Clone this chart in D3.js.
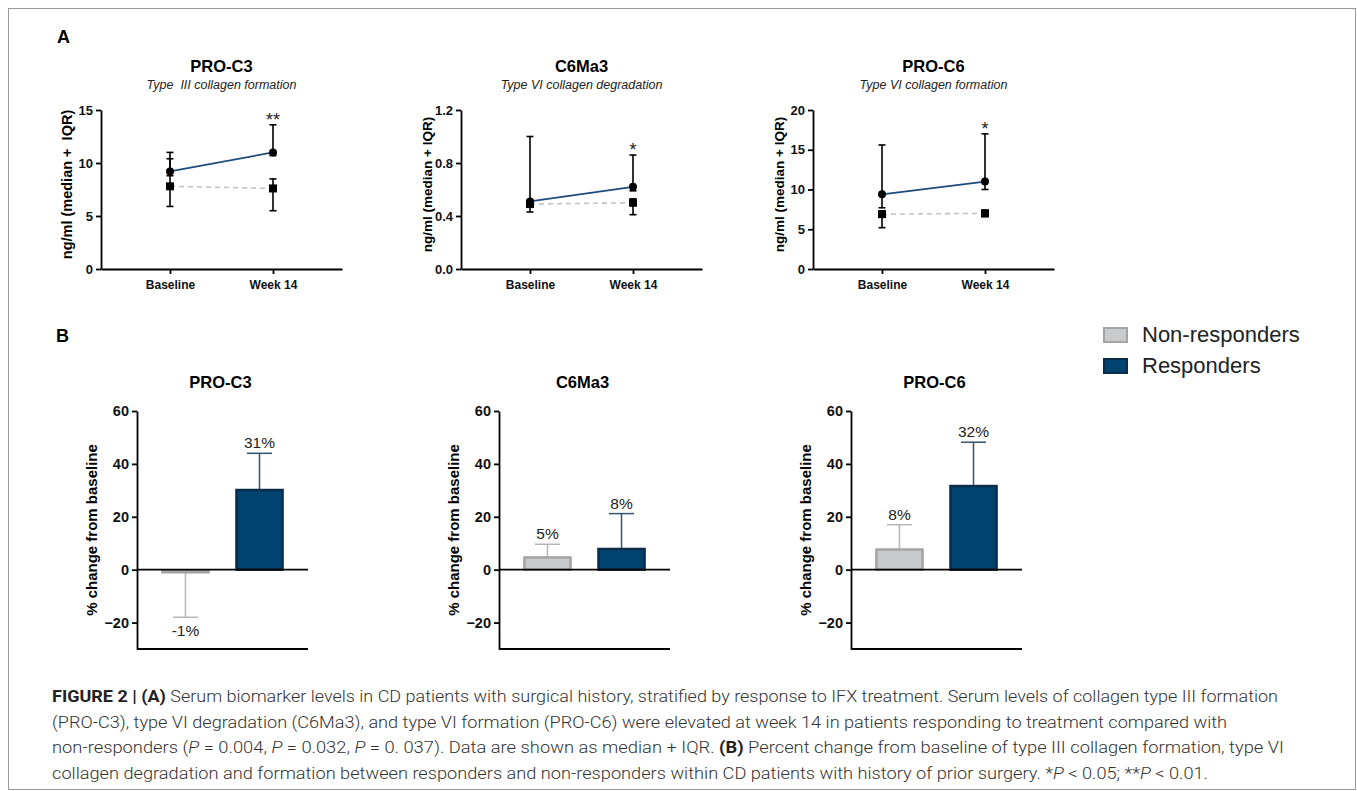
<!DOCTYPE html>
<html>
<head>
<meta charset="utf-8">
<script src="https://cdn.jsdelivr.net/npm/d3@7"></script>
<style>
  body { margin: 0; background: #fff; }
  svg { display: block; font-family: "Liberation Sans", Arial, sans-serif; }
</style>
</head>
<body>
<div id="fig"></div>
<script>
// ---- data ----
var markers = ["PRO-C3", "C6Ma3", "PRO-C6"];
var subtitles = ["Type \u00a0III collagen formation", "Type VI collagen degradation", "Type VI collagen formation"];
var timepoints = ["Baseline", "Week 14"];
var groups = ["Non-responders", "Responders"];

// panel A: median + IQR, [marker][timepoint]
var respMedian = [[9.2, 11.0], [0.51, 0.62], [9.4, 11.0]];
var respLow    = [[8.8, 10.7], [0.48, 0.59], [7.7, 10.0]];
var respHigh   = [[11.0, 13.6], [1.0, 0.86], [15.6, 17.0]];
var nonMedian  = [[7.8, 7.6], [0.49, 0.50], [6.9, 7.0]];
var nonLow     = [[5.9, 5.5], [0.43, 0.41], [5.2, 6.6]];
var nonHigh    = [[10.4, 8.5], [0.52, 0.53], [7.3, 7.4]];
var yMaxA   = [15, 1.2, 20];
var yTicksA = [[0, 5, 10, 15], [0, 0.4, 0.8, 1.2], [0, 5, 10, 15, 20]];
var stars   = ["**", "*", "*"];

// panel B: % change from baseline
var pctNon     = [-1, 5, 8];
var pctNonErr  = [-18, 9.6, 17];
var pctResp    = [30.5, 8.2, 32];
var pctRespErr = [44, 21.2, 48.2];
var yDomainB = [-30, 60];
var yTicksB  = [-20, 0, 20, 40, 60];

var blue = "#1d4b7c";

var svg = d3.select("#fig").append("svg")
    .attr("width", 1357)
    .attr("height", 791);

// frame
svg.append("rect")
    .attr("x", 8.5).attr("y", 8.5)
    .attr("width", 1347).attr("height", 781)
    .attr("fill", "none").attr("stroke", "#9a9a9a").attr("stroke-width", 1);

svg.append("text").attr("x", 57).attr("y", 43)
    .attr("font-size", 18).attr("font-weight", "bold").text("A");
svg.append("text").attr("x", 56).attr("y", 342)
    .attr("font-size", 18).attr("font-weight", "bold").text("B");

function styleAxis(g) {
  g.select(".domain").attr("stroke", "#000").attr("stroke-width", 1.8);
  g.selectAll(".tick line").attr("stroke", "#000").attr("stroke-width", 1.8);
  g.selectAll(".tick text").attr("fill", "#111").attr("font-weight", "bold")
    .attr("font-family", "Liberation Sans, Arial, sans-serif");
}

// ---- panel A: line charts ----
var leftsA = [101, 461, 813], widthA = 241, topA = 110, bottomA = 269;

markers.forEach(function(m, i) {
  var left = leftsA[i];
  var g = svg.append("g");

  var x = d3.scalePoint().domain(timepoints).range([left, left + widthA]).padding(0.67);
  var y = d3.scaleLinear().domain([0, yMaxA[i]]).range([bottomA, topA]);

  g.append("text").attr("x", left + widthA / 2).attr("y", 72)
    .attr("text-anchor", "middle").attr("font-size", 16.5).attr("font-weight", "bold")
    .text(m);
  g.append("text").attr("x", left + widthA / 2).attr("y", 89)
    .attr("text-anchor", "middle").attr("font-size", 12.5).attr("font-style", "italic")
    .attr("fill", "#222").text(subtitles[i]);

  var ya = g.append("g").attr("transform", "translate(" + left + ",0)")
    .call(d3.axisLeft(y).tickValues(yTicksA[i])
      .tickFormat(i == 1 ? d3.format(".1f") : d3.format("d"))
      .tickSize(5).tickPadding(3).tickSizeOuter(0));
  ya.selectAll(".tick text").attr("font-size", 13);
  styleAxis(ya);

  var xa = g.append("g").attr("transform", "translate(0," + bottomA + ")")
    .call(d3.axisBottom(x).tickSize(5).tickPadding(6).tickSizeOuter(0));
  xa.selectAll(".tick text").attr("font-size", 12);
  styleAxis(xa);

  g.append("text")
    .attr("transform", "translate(" + (left - 34) + "," + ((topA + bottomA) / 2 - 5) + ") rotate(-90)")
    .attr("text-anchor", "middle").attr("dy", "0.35em")
    .attr("font-size", i == 0 ? 14.5 : 13.5).attr("font-weight", "bold")
    .text(i == 0 ? "ng/ml (median +\u00a0 IQR)" : "ng/ml (median + IQR)");

  var line = d3.line().x(function(d, j) { return x(timepoints[j]); }).y(function(d) { return y(d); });

  // lines
  g.append("path").datum(nonMedian[i]).attr("d", line)
    .attr("fill", "none").attr("stroke", "#c4c4c4").attr("stroke-width", 1.6)
    .attr("stroke-dasharray", "5,4");
  g.append("path").datum(respMedian[i]).attr("d", line)
    .attr("fill", "none").attr("stroke", blue).attr("stroke-width", 1.8);

  function errorBars(low, high) {
    timepoints.forEach(function(t, j) {
      var cx = x(t);
      g.append("line").attr("x1", cx).attr("x2", cx)
        .attr("y1", y(low[i][j])).attr("y2", y(high[i][j]))
        .attr("stroke", "#000").attr("stroke-width", 1.6);
      [low[i][j], high[i][j]].forEach(function(v) {
        g.append("line").attr("x1", cx - 3.5).attr("x2", cx + 3.5)
          .attr("y1", y(v)).attr("y2", y(v))
          .attr("stroke", "#000").attr("stroke-width", 1.6);
      });
    });
  }
  errorBars(respLow, respHigh);
  errorBars(nonLow, nonHigh);

  // markers
  g.selectAll(".dot").data(respMedian[i]).enter().append("circle")
    .attr("cx", function(d, j) { return x(timepoints[j]); })
    .attr("cy", function(d) { return y(d); })
    .attr("r", 4).attr("fill", "#000");
  g.selectAll(".sq").data(nonMedian[i]).enter().append("rect")
    .attr("x", function(d, j) { return x(timepoints[j]) - 4; })
    .attr("y", function(d) { return y(d) - 4; })
    .attr("width", 8).attr("height", 8).attr("fill", "#000");

  // significance
  g.append("text").attr("x", x(timepoints[1])).attr("y", y(respHigh[i][1]) + 1)
    .attr("text-anchor", "middle").attr("font-size", 18).attr("fill", "#222")
    .text(stars[i]);
});

// ---- panel B: bar charts ----
var leftsB = [137, 499, 851], widthB = 171, topB = 411, bottomB = 649;
var fills = ["#c9cacc", "#00436e"], strokes = ["#a4a4a4", "#0c2d4a"], errCols = ["#b5b5b5", "#34536f"];

markers.forEach(function(m, i) {
  var left = leftsB[i];
  var g = svg.append("g");
  var x = d3.scaleBand().domain(groups).range([left, left + widthB]).paddingInner(0.35).paddingOuter(0.33);
  var y = d3.scaleLinear().domain(yDomainB).range([bottomB, topB]);

  g.append("text").attr("x", left + widthB / 2 - 2).attr("y", 388)
    .attr("text-anchor", "middle").attr("font-size", 16.5).attr("font-weight", "bold")
    .text(m);

  var ya = g.append("g").attr("transform", "translate(" + left + ",0)")
    .call(d3.axisLeft(y).tickValues(yTicksB).tickFormat(d3.format("d"))
      .tickSize(5).tickPadding(3).tickSizeOuter(0));
  ya.selectAll(".tick text").attr("font-size", 14.5);
  styleAxis(ya);

  g.append("line").attr("x1", left).attr("x2", left + widthB)
    .attr("y1", y(yDomainB[0])).attr("y2", y(yDomainB[0]))
    .attr("stroke", "#000").attr("stroke-width", 1.8);

  g.append("text")
    .attr("transform", "translate(" + (left - 45) + "," + ((topB + bottomB) / 2) + ") rotate(-90)")
    .attr("text-anchor", "middle").attr("dy", "0.35em")
    .attr("font-size", 15).attr("font-weight", "bold")
    .text("% change from baseline");

  var vals = [pctNon[i], pctResp[i]], errs = [pctNonErr[i], pctRespErr[i]];

  groups.forEach(function(grp, k) {
    var v = vals[k], e = errs[k];
    var bx = x(grp), bw = x.bandwidth(), cx = bx + bw / 2;
    // error bar from bar end
    g.append("line").attr("x1", cx).attr("x2", cx).attr("y1", y(v)).attr("y2", y(e))
      .attr("stroke", errCols[k]).attr("stroke-width", 1.5);
    g.append("line").attr("x1", cx - 12.5).attr("x2", cx + 12.5).attr("y1", y(e)).attr("y2", y(e))
      .attr("stroke", errCols[k]).attr("stroke-width", 1.5);
    g.append("rect")
      .attr("x", bx + 1).attr("width", bw - 2)
      .attr("y", y(Math.max(0, v)) + 1)
      .attr("height", Math.max(0.5, Math.abs(y(v) - y(0)) - 1))
      .attr("fill", fills[k]).attr("stroke", strokes[k]).attr("stroke-width", 2.5);
    g.append("text").attr("x", cx)
      .attr("y", e >= v ? y(e) - 5 : y(e) + 19)
      .attr("text-anchor", "middle").attr("font-size", 15.5).attr("fill", "#222")
      .text(Math.round(v) + "%");
  });

  // zero line
  g.append("line").attr("x1", left).attr("x2", left + widthB)
    .attr("y1", y(0)).attr("y2", y(0))
    .attr("stroke", "#000").attr("stroke-width", 1.8);
});

// legend
groups.forEach(function(grp, k) {
  svg.append("rect").attr("x", 1104).attr("y", 328 + k * 31)
    .attr("width", 23).attr("height", 14)
    .attr("fill", fills[k]).attr("stroke", strokes[k]).attr("stroke-width", 2);
  svg.append("text").attr("x", 1142).attr("y", 342 + k * 31)
    .attr("font-size", 22).attr("fill", "#222").text(grp);
});

// ---- caption ----
var caption = [
  { w: 1226, parts: [["FIGURE 2 | (A)", "b"], [" Serum biomarker levels in CD patients with surgical history, stratified by response to IFX treatment. Serum levels of collagen type III formation"]] },
  { w: 1175, parts: [["(PRO-C3), type VI degradation (C6Ma3), and type VI formation (PRO-C6) were elevated at week 14 in patients responding to treatment compared with"]] },
  { w: 1232, parts: [["non-responders ("], ["P", "i"], [" = 0.004, "], ["P", "i"], [" = 0.032, "], ["P", "i"], [" = 0. 037). Data are shown as median + IQR. "], ["(B)", "b"], [" Percent change from baseline of type III collagen formation, type VI"]] },
  { w: 1156, parts: [["collagen degradation and formation between responders and non-responders within CD patients with history of prior surgery. *"], ["P", "i"], [" < 0.05; **"], ["P", "i"], [" < 0.01."]] }
];
caption.forEach(function(ln, i) {
  var t = svg.append("text").attr("x", 52).attr("y", 702 + i * 25.7)
    .attr("font-family", "Roboto, 'Liberation Sans', sans-serif")
    .attr("font-size", 16.5).attr("font-weight", 300).attr("fill", "#333")
    .attr("textLength", ln.w).attr("lengthAdjust", "spacingAndGlyphs")
    .style("white-space", "pre");
  ln.parts.forEach(function(p) {
    var s = t.append("tspan").text(p[0]);
    if (p[1] == "b") s.attr("font-weight", 700).attr("fill", "#222");
    if (p[1] == "i") s.attr("font-style", "italic");
  });
});
</script>
</body>
</html>
